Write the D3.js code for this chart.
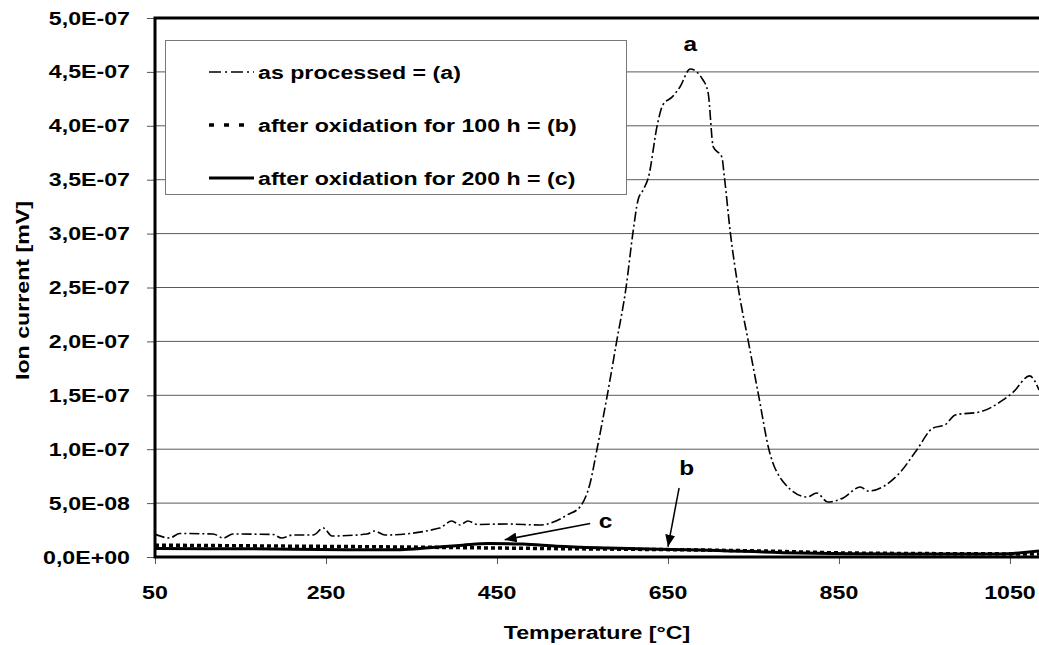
<!DOCTYPE html>
<html><head><meta charset="utf-8">
<script src="https://cdn.jsdelivr.net/npm/d3@7"></script>
<style>body{margin:0;background:#fff}svg{display:block}</style>
</head><body><svg id="chart" width="1039" height="645"></svg>
<script>
// ---- data ----
const tempA=[50,67,79,118,130,141,188,198,211,235,247,257,298,307,319,383,397,407,416,427,462,500,524,532,547,559,567,579,590,601,609,615,621,627,638,644,655,664,676,691,697,703,713,716,723,732,744,756,768,785,813,824,837,855,875,884,921,941,960,974,986,1015,1042,1054,1073,1084];
const ionA=[2.13e-8,1.76e-8,2.18e-8,2.13e-8,1.76e-8,2.13e-8,2.09e-8,1.76e-8,2.04e-8,2.04e-8,2.69e-8,1.95e-8,2.13e-8,2.41e-8,2.04e-8,2.69e-8,3.34e-8,2.97e-8,3.34e-8,3.02e-8,3.06e-8,2.97e-8,3.53e-8,3.90e-8,4.64e-8,6.87e-8,1.0e-7,1.5e-7,2.0e-7,2.5e-7,3.006e-7,3.312e-7,3.405e-7,3.517e-7,4.027e-7,4.194e-7,4.268e-7,4.36e-7,4.527e-7,4.425e-7,4.305e-7,3.804e-7,3.711e-7,3.525e-7,3.006e-7,2.505e-7,2.0e-7,1.5e-7,1.0e-7,6.96e-8,5.57e-8,5.94e-8,5.10e-8,5.48e-8,6.50e-8,6.12e-8,7.80e-8,9.93e-8,1.197e-7,1.225e-7,1.318e-7,1.346e-7,1.457e-7,1.531e-7,1.68e-7,1.55e-7];
const tempB=[50,220,337,453,570,687,758,863,1084];
const ionB=[1.1e-8,1.0e-8,9.3e-9,8.3e-9,7.4e-9,6.5e-9,5.6e-9,3.7e-9,2.8e-9];
const tempC=[50,161,278,337,370,410,440,480,520,580,687,804,921,1038,1084];
const ionC=[7.8e-9,7.6e-9,6.8e-9,6.8e-9,8.5e-9,1.1e-8,1.25e-8,1.2e-8,1.0e-8,8.3e-9,6.5e-9,3.7e-9,2.8e-9,2.8e-9,5.5e-9];
const seriesNames=["as processed = (a)","after oxidation for 100 h = (b)","after oxidation for 200 h = (c)"];
const xTicks=[50,250,450,650,850,1050];
const yTicks=[0,5e-8,1e-7,1.5e-7,2e-7,2.5e-7,3e-7,3.5e-7,4e-7,4.5e-7,5e-7];
const yTickLabels=["0,0E+00","5,0E-08","1,0E-07","1,5E-07","2,0E-07","2,5E-07","3,0E-07","3,5E-07","4,0E-07","4,5E-07","5,0E-07"];
const xTitle="Temperature [°C]";
const yTitle="Ion current [mV]";
// annotations: [label, labelT, labelV, arrowFromT, arrowFromV, arrowToT, arrowToV]
const annotations=[
  ["a",676,4.76e-7,null,null,null,null],
  ["c",577,3.3e-8,559,3.1e-8,459,1.6e-8],
  ["b",672,8.3e-8,663,6.4e-8,650,9.5e-9]
];

// ---- drawing ----
const svg=d3.select("#chart");
const FONT="'Liberation Sans', Arial, Helvetica, sans-serif";
const SX=1.22;
const x=d3.scaleLinear().domain([50,1084]).range([155,1039]);
const y=d3.scaleLinear().domain([0,5e-7]).range([557,18]);

function label(g,tx,ty,txt,anchor,size,rot){
  return g.append("text")
    .attr("transform",`translate(${tx},${ty})`+(rot?` rotate(${rot})`:"")+` scale(${SX},1)`)
    .attr("text-anchor",anchor)
    .attr("font-family",FONT).attr("font-weight","bold")
    .attr("font-size",size).attr("fill","#000").text(txt);
}

// gridlines
svg.append("g").selectAll("line").data(yTicks.slice(1,-1)).join("line")
  .attr("x1",x.range()[0]).attr("x2",x.range()[1])
  .attr("y1",d=>y(d)).attr("y2",d=>y(d))
  .attr("stroke","#5a5a5a").attr("stroke-width",1);

// axes
const yAxis=svg.append("g").attr("transform",`translate(${x.range()[0]},0)`)
  .call(d3.axisLeft(y).tickValues(yTicks).tickFormat("").tickSize(8).tickSizeOuter(0));
const xAxis=svg.append("g").attr("transform",`translate(0,${y(0)})`)
  .call(d3.axisBottom(x).tickValues(xTicks).tickFormat("").tickSize(7).tickSizeOuter(0));
[yAxis,xAxis].forEach(a=>{
  a.select(".domain").remove();
  a.selectAll(".tick line").attr("stroke","#555").attr("stroke-width",1);
});

// tick labels
const tl=svg.append("g");
yTicks.forEach((v,i)=>label(tl,130,y(v)+6.5,yTickLabels[i],"end",19));
xTicks.forEach(v=>label(tl,x(v),y(0)+42,String(v),"middle",19));
label(tl,(x.range()[0]+x.range()[1])/2,639,xTitle,"middle",19);
label(tl,29,y(2.5e-7)+3,yTitle,"middle",19,-90);

// series
const line=d3.line().x(d=>x(d[0])).y(d=>y(d[1])).curve(d3.curveMonotoneX);
const dataA=tempA.map((t,i)=>[t,ionA[i]]);
const dataB=tempB.map((t,i)=>[t,ionB[i]]);
const dataC=tempC.map((t,i)=>[t,ionC[i]]);
svg.append("defs").append("clipPath").attr("id","clip").append("rect")
  .attr("x",x.range()[0]).attr("y",y.range()[1]).attr("width",x.range()[1]-x.range()[0]).attr("height",y.range()[0]-y.range()[1]);
const plot=svg.append("g").attr("clip-path","url(#clip)");
plot.append("path").datum(dataC).attr("d",line).attr("fill","none").attr("stroke","#000").attr("stroke-width",3);
plot.append("path").datum(dataB).attr("d",line).attr("fill","none").attr("stroke","#000").attr("stroke-width",3.5).attr("stroke-dasharray","4,3");
plot.append("path").datum(dataA).attr("d",line).attr("fill","none").attr("stroke","#000").attr("stroke-width",1.6).attr("stroke-dasharray","10,3,2,3");

// frame: left, top, bottom thick
svg.append("path")
  .attr("d",`M${x.range()[1]},${y.range()[1]}H${x.range()[0]}V${y.range()[0]}H${x.range()[1]}`)
  .attr("fill","none").attr("stroke","#000").attr("stroke-width",3);

// annotations
svg.append("defs").append("marker").attr("id","arr").attr("viewBox","0 0 12 10")
  .attr("refX",12).attr("refY",5).attr("markerWidth",12).attr("markerHeight",10)
  .attr("markerUnits","userSpaceOnUse").attr("orient","auto")
  .append("path").attr("d","M0,0L12,5L0,10Z").attr("fill","#000");
const an=svg.append("g");
annotations.forEach(a=>{
  label(an,x(a[1]),y(a[2])+7,a[0],"middle",20);
  if(a[3]!==null){
    an.append("line").attr("x1",x(a[3])).attr("y1",y(a[4])).attr("x2",x(a[5])).attr("y2",y(a[6]))
      .attr("stroke","#000").attr("stroke-width",1.5).attr("marker-end","url(#arr)");
  }
});

// legend
const lg=svg.append("g");
lg.append("rect").attr("x",165.5).attr("y",40.5).attr("width",461).attr("height",154)
  .attr("fill","#fff").attr("stroke","#777").attr("stroke-width",1);
const rowsY=[72,125,178];
const legW=[1.6,3.5,3];
const legDash=["12,4,2,4","5,10",null];
seriesNames.forEach((n,i)=>{
  lg.append("line").attr("x1",209).attr("x2",254).attr("y1",rowsY[i]).attr("y2",rowsY[i])
    .attr("stroke","#000").attr("stroke-width",legW[i])
    .attr("stroke-dasharray",legDash[i]);
  label(lg,258,rowsY[i]+7,n,"start",19);
});
</script></body></html>
